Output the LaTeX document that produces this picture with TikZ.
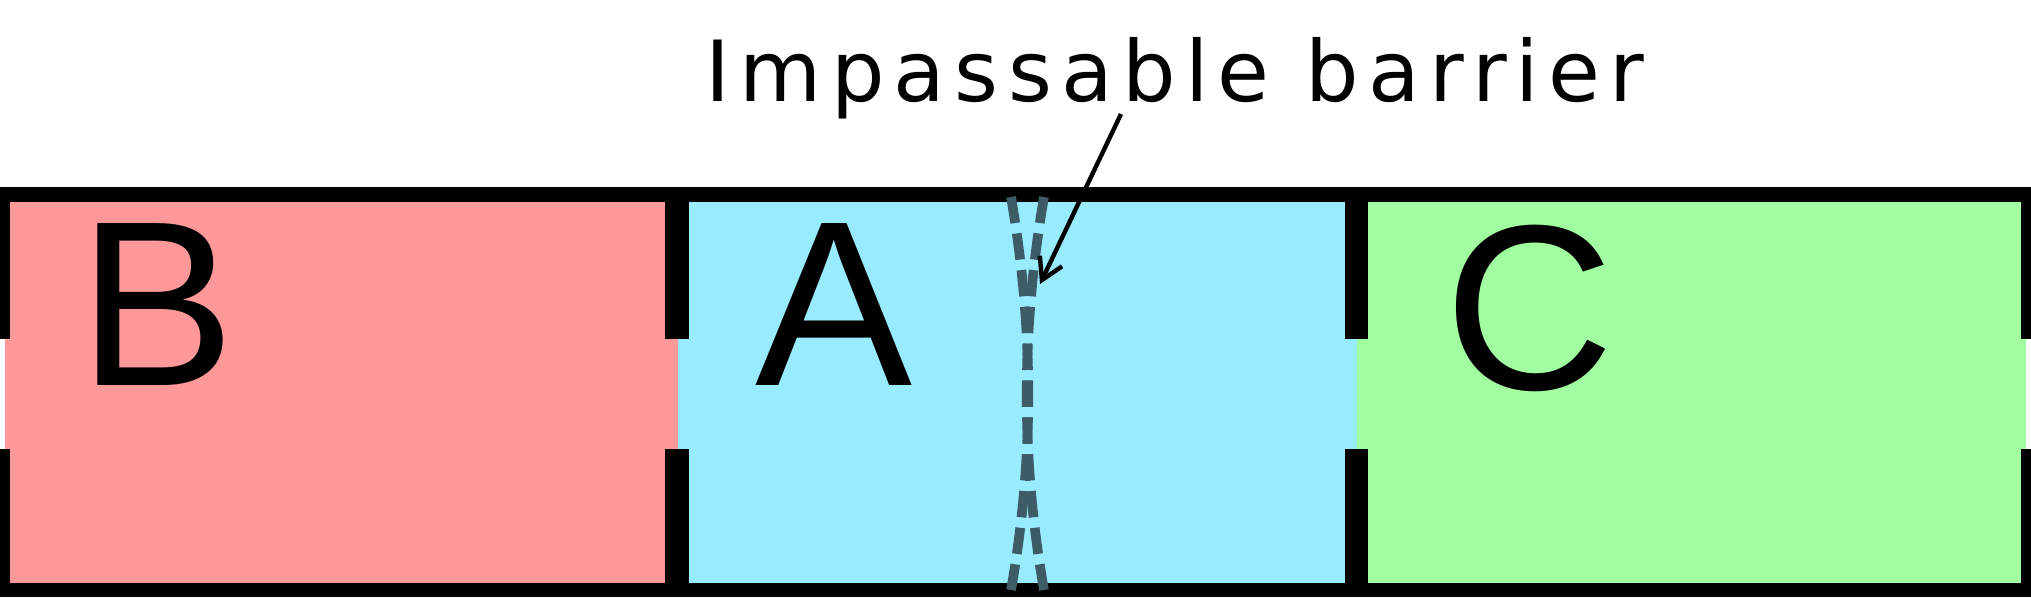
\documentclass[tikz,border=0pt]{standalone}
\usepackage{fontspec}
\setmainfont{Liberation Sans}
\newfontfamily\widefont[LetterSpace=11]{DejaVu Sans}
\usetikzlibrary{arrows.meta}
\definecolor{rB}{HTML}{FF9999}
\definecolor{cA}{HTML}{99EBFF}
\definecolor{gC}{HTML}{A1FFA1}
\definecolor{bar}{HTML}{3D5C66}
\begin{document}
\begin{tikzpicture}[x=0.02cm,y=-0.02cm,
  wall/.style={fill=black},
  barrierline/.style={draw=bar,line width=5.5pt,dash pattern=on 15pt off 6pt},
  roomlabel/.style={font=\fontsize{134}{136}\selectfont,anchor=base west,inner sep=0}]
\useasboundingbox (0,0) rectangle (2031,602);
\fill[rB] (5,192) rectangle (678,592);
\fill[cA] (678,192) rectangle (1357,592);
\fill[gC] (1357,192) rectangle (2026,592);
\fill[wall] (0,187) rectangle (2031,202);
\fill[wall] (0,583) rectangle (2031,597);
\foreach \a/\b in {0/10,665/689,1345/1368,2021/2031}{
  \fill[wall] (\a,187) rectangle (\b,339);
  \fill[wall] (\a,449) rectangle (\b,597);
}
\draw[barrierline] (1011,197) .. controls (1034,330) and (1034,460) .. (1011,590);
\draw[barrierline] (1044,197) .. controls (1021,330) and (1021,460) .. (1044,590);
\node[roomlabel] (B) at (78,385) {B};
\node[roomlabel] (A) at (755,385) {A};
\node[roomlabel] (C) at (1444,389) {C};
\node[font=\widefont\fontsize{48}{50}\selectfont,anchor=base,inner sep=0] (t) at (1175,101) {Impassable barrier};
\coordinate (tip) at (1040,284);
\draw[line width=2.5pt,-{Straight Barb[length=12pt,width=14pt]}] (1121,114) -- (tip);
\end{tikzpicture}
\end{document}
